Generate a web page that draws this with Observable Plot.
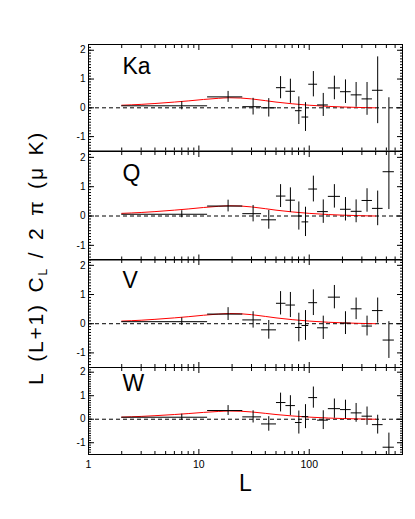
<!DOCTYPE html>
<html><head><meta charset="utf-8">
<script src="https://cdn.jsdelivr.net/npm/d3@7"></script>
<script src="https://cdn.jsdelivr.net/npm/@observablehq/plot@0.6"></script>
<style>
body{margin:0;background:#fff;}
#chart{position:relative;width:415px;height:519px;overflow:hidden;font-family:"Liberation Sans",Arial,sans-serif;background:#fff;}
#chart svg{position:absolute;left:0;}
.ytitle{position:absolute;left:35px;top:258px;transform:translate(-50%,-50%) rotate(-90deg);white-space:nowrap;font-size:21px;line-height:1;letter-spacing:1.8px;word-spacing:3px;color:#000;}
.ytitle .sub{font-size:12px;position:relative;top:4px;letter-spacing:0;}
</style></head><body><div id="chart"></div>
<script>
// bands (panels)
const bands = ["Ka", "Q", "V", "W"];
// multipole bins
const binCenter = [7, 18.4, 31, 43, 55, 67.5, 80.5, 92.5, 109, 134, 169, 213, 266, 334, 417, 527];
const binLow    = [2, 12, 25, 37, 50.5, 61.5, 75, 86, 99, 119, 149, 192, 240, 301, 374, 467];
const binHigh   = [12, 25, 37, 50.5, 61.5, 75, 86, 99, 119, 149, 192, 240, 301, 374, 467, 591];
// band powers and errors (μK)
const kaValue = [0.07, 0.38, 0.04, 0.0, 0.70, 0.575, -0.10, -0.32, 0.82, 0.10, 0.69, 0.56, 0.45, 0.31, 0.61, -1.75];
const kaError = [0.14, 0.19, 0.29, 0.32, 0.385, 0.42, 0.48, 0.50, 0.44, 0.40, 0.41, 0.41, 0.43, 0.57, 1.16, 2.1];
const qValue  = [0.06, 0.34, 0.08, -0.13, 0.68, 0.54, 0.0, -0.20, 0.92, 0.15, 0.67, 0.23, 0.16, 0.53, 0.26, 1.51];
const qError  = [0.12, 0.20, 0.28, 0.32, 0.39, 0.42, 0.48, 0.50, 0.44, 0.40, 0.40, 0.40, 0.39, 0.40, 0.59, 1.29];
const vValue  = [0.07, 0.33, 0.13, -0.21, 0.70, 0.64, -0.13, -0.06, 0.72, -0.14, 0.91, 0.02, 0.51, -0.08, 0.45, -0.56];
const vError  = [0.13, 0.22, 0.28, 0.32, 0.40, 0.43, 0.49, 0.51, 0.44, 0.40, 0.40, 0.39, 0.37, 0.34, 0.43, 0.63];
const wValue  = [0.085, 0.37, 0.10, -0.20, 0.71, 0.58, -0.14, 0.11, 0.92, -0.04, 0.45, 0.41, 0.27, 0.13, -0.23, -1.19];
const wError  = [0.13, 0.21, 0.26, 0.31, 0.40, 0.42, 0.49, 0.51, 0.45, 0.40, 0.41, 0.40, 0.40, 0.39, 0.40, 0.60];
// model curve
const theoryL     = [2, 3, 4, 6, 8, 11, 15, 19, 24, 30, 40, 50, 70, 100, 150, 200, 300, 400];
const theoryValue = [0.09, 0.12, 0.15, 0.20, 0.24, 0.29, 0.33, 0.35, 0.34, 0.31, 0.25, 0.20, 0.14, 0.09, 0.05, 0.03, 0.01, 0.0];
// ticks
const xMajorTicks = [1, 10, 100];
const xMinorTicks = [2, 3, 4, 5, 6, 7, 8, 9, 20, 30, 40, 50, 60, 70, 80, 90, 200, 300, 400, 500, 600];
const yTickLabels = [-1, 0, 1, 2];

const values = {Ka: kaValue, Q: qValue, V: vValue, W: wValue};
const errors = {Ka: kaError, Q: qError, V: vError, W: wError};
const layout = {
  Ka: {top: 44, h: 106.5, labelDy: 13},
  Q:  {top: 150.5, h: 108.5, labelDy: 13.5},
  V:  {top: 259, h: 108, labelDy: 12},
  W:  {top: 367, h: 87, labelDy: 7}
};
const yMinor = d3.range(-15, 23).map(i => i / 10);
const theory = theoryL.map((L, i) => ({L, v: theoryValue[i]}));
const font = '"Liberation Sans", Arial, sans-serif';

const chart = document.getElementById("chart");

for (const band of bands) {
  const {top, h, labelDy} = layout[band];
  const last = band === "W";
  const rows = binCenter.map((L, i) => ({L, lo: binLow[i], hi: binHigh[i], v: values[band][i], e: errors[band][i]}));
  const mt = 4, mb = last ? 65 : 4;
  const axisOpts = {label: null, stroke: "black"};
  const svg = Plot.plot({
    width: 415, height: h + mt + mb,
    marginTop: mt, marginBottom: mb, marginLeft: 88, marginRight: 13,
    style: {background: "transparent", overflow: "visible", fontFamily: font, color: "black"},
    x: {type: "log", domain: [1, 700], axis: null},
    y: {domain: [-1.5, 2.2], axis: null},
    marks: [
      Plot.ruleY([0], {stroke: "black", strokeDasharray: "4,3"}),
      Plot.line(theory, {x: "L", y: "v", stroke: "#ff0000", strokeWidth: 1, curve: "monotone-x"}),
      Plot.ruleX(rows, {x: "L", y1: d => d.v - d.e, y2: d => d.v + d.e, stroke: "black", strokeWidth: 1, clip: true}),
      Plot.ruleY(rows, {y: "v", x1: "lo", x2: "hi", stroke: "black", strokeWidth: 1, clip: true}),
      // y axes (inward ticks both sides)
      Plot.axisY({...axisOpts, anchor: "left", ticks: yTickLabels, tickSize: 0, tickPadding: 3, tickFormat: d => String(d), fontSize: 10}),
      Plot.axisY({...axisOpts, anchor: "left", ticks: yTickLabels, tickSize: -6, tickFormat: () => ""}),
      Plot.axisY({...axisOpts, anchor: "left", ticks: yMinor, tickSize: -3, tickFormat: () => ""}),
      Plot.axisY({...axisOpts, anchor: "right", ticks: yTickLabels, tickSize: -6, tickFormat: () => ""}),
      Plot.axisY({...axisOpts, anchor: "right", ticks: yMinor, tickSize: -3, tickFormat: () => ""}),
      // x axes (inward ticks top and bottom)
      Plot.axisX({...axisOpts, anchor: "top", ticks: xMajorTicks, tickSize: -5, tickFormat: () => ""}),
      Plot.axisX({...axisOpts, anchor: "top", ticks: xMinorTicks, tickSize: -3, tickFormat: () => ""}),
      Plot.axisX({...axisOpts, anchor: "bottom", ticks: xMajorTicks, tickSize: -5, tickFormat: () => ""}),
      Plot.axisX({...axisOpts, anchor: "bottom", ticks: xMinorTicks, tickSize: -3, tickFormat: () => ""}),
      last ? Plot.axisX({...axisOpts, anchor: "bottom", ticks: xMajorTicks, tickSize: 0, tickPadding: 6, tickFormat: d => String(d), fontSize: 10.5}) : null,
      last ? Plot.text(["L"], {text: d => d, frameAnchor: "bottom", lineAnchor: "bottom", dy: 36, fontSize: 23, fill: "black"}) : null,
      Plot.frame({stroke: "black"}),
      Plot.text([band], {text: d => d, frameAnchor: "top-left", textAnchor: "start", lineAnchor: "top", dx: 34, dy: labelDy, fontSize: 23, fill: "black"})
    ]
  });
  svg.style.top = (top - mt) + "px";
  chart.appendChild(svg);
}

const yt = document.createElement("div");
yt.className = "ytitle";
yt.innerHTML = 'L (L+1) C<span class="sub">L</span> / 2 π (μ K)';
chart.appendChild(yt);
</script>
</body></html>
